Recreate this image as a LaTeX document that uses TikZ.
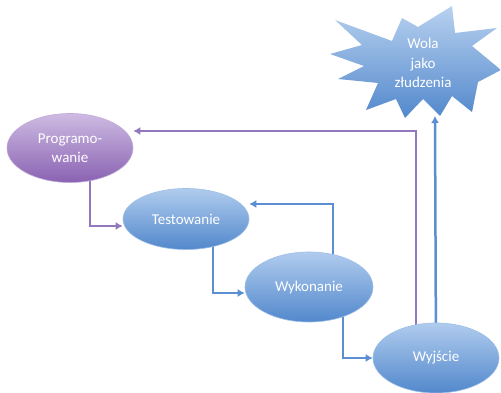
\documentclass[tikz,border=0pt]{standalone}
\usepackage{fontspec}
\setmainfont{Carlito}
\usetikzlibrary{shapes.geometric,arrows.meta,calc,backgrounds}
\definecolor{bluetop}{HTML}{B0CCEE}
\definecolor{bluebot}{HTML}{5288CC}
\definecolor{purptop}{HTML}{CDBBE2}
\definecolor{purpbot}{HTML}{8A62B2}
\definecolor{blueline}{HTML}{5B8FD1}
\definecolor{purpline}{HTML}{9478BE}
\tikzset{
  bubble/.style={ellipse, inner sep=0pt, text=white,
    font=\fontsize{15}{19.5}\selectfont, align=center},
  bluebubble/.style={bubble, top color=bluetop, bottom color=bluebot, draw=bluetop!80!bluebot, line width=0.6pt},
  purpbubble/.style={bubble, top color=purptop, bottom color=purpbot, draw=purptop!80!purpbot, line width=0.6pt},
  conn/.style={line width=2.5pt, -{Latex[length=7pt,width=8pt]}},
  blueconn/.style={conn, draw=blueline},
  purpconn/.style={conn, draw=purpline},
}
\begin{document}
\begin{tikzpicture}[x=1pt,y=-1pt]
\useasboundingbox (0,0) rectangle (501,393);
\begin{scope}[on background layer]
\fill[white] (0,0) rectangle (501,393);
\end{scope}
% starburst
\shade[top color=bluetop!90!white, bottom color=bluebot]
  (335,20) -- (392,41) -- (402,18) -- (418,27) -- (452,6) -- (455,33)
  -- (497,28) -- (472,46) -- (501,70) -- (478,82) -- (472,112)
  -- (452,96) -- (440,116) -- (423,99) -- (405,118) -- (396,99)
  -- (366,110) -- (378,83) -- (338,79) -- (364,66) -- (330,54)
  -- (362,45) -- cycle;
\node[bubble] (wola) at (423,63) {Wola\\jako\\złudzenia};
\coordinate (wolab) at (435,116);
% ellipses
\node[purpbubble, minimum width=126pt, minimum height=69pt] (prog) at (70,148) {Programo-\\wanie};
\node[bluebubble, minimum width=126pt, minimum height=61pt] (test) at (186,219) {Testowanie};
\node[bluebubble, minimum width=128pt, minimum height=70pt] (wyk) at (309,287) {Wykonanie};
\node[bluebubble, minimum width=126pt, minimum height=70pt] (wyj) at (436,358) {Wyjście};
% connectors
\begin{scope}[on background layer]
\draw[purpconn] ($(prog.center)+(20,0)$) |- ($(test.west)+(0,7)$);
\draw[blueconn] ($(test.center)+(27,0)$) |- ($(wyk.west)+(0,6)$);
\draw[blueconn] ($(wyk.center)+(24,0)$) |- ($(test.east)+(0,-15)$);
\draw[blueconn] ($(wyk.center)+(34,0)$) |- (wyj.west);
\draw[purpconn] ($(wyj.center)+(-20,0)$) |- ($(prog.east)+(0,-17)$);
\draw[blueconn] (wyj.center) -- (wolab);
\end{scope}
\end{tikzpicture}
\end{document}
